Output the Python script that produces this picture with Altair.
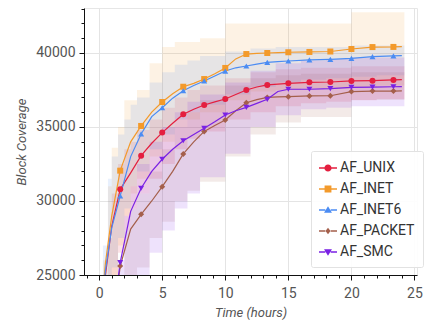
import altair as alt
import pandas as pd

SERIES = ["AF_UNIX", "AF_INET", "AF_INET6", "AF_PACKET", "AF_SMC"]
COLORS = ["#e41f3f", "#f39a2b", "#4b8cf3", "#a45f4b", "#7a21e4"]
SHAPES = ["circle", "square", "triangle-up", "diamond", "triangle-down"]

HOURS = [0, 0.5, 1, 1.67, 2.5, 3.33, 4.17, 5, 5.83, 6.67, 7.5, 8.33, 9.17, 10,
         10.83, 11.67, 12.5, 13.33, 14.17, 15, 16.67, 18.33, 20, 21.67, 23.33, 24]
MARKER_HOURS = [1.67, 3.33, 5, 6.67, 8.33, 10, 11.67, 13.33, 15, 16.67, 18.33,
                20, 21.67, 23.33]

AF_UNIX = [21000, 25000, 28300, 30790, 31900, 33060, 33900, 34620, 35250, 35860,
           36200, 36490, 36700, 36890, 37200, 37500, 37700, 37840, 37900, 37950,
           38020, 38040, 38110, 38130, 38180, 38200]
AF_INET = [21000, 25800, 29000, 32050, 34000, 35070, 36000, 36690, 37250, 37720,
           37950, 38240, 38600, 38990, 39600, 39930, 39980, 40000, 40030, 40050,
           40070, 40100, 40270, 40400, 40410, 40430]
AF_INET6 = [21000, 25300, 28200, 30340, 33000, 34530, 35700, 36300, 36950, 37450,
            37800, 38110, 38450, 38780, 39000, 39120, 39250, 39370, 39420, 39460,
            39530, 39570, 39640, 39750, 39800, 39820]
AF_PACKET = [14000, 17000, 21000, 25600, 28100, 29100, 30000, 30970, 32000, 33180,
             34000, 34700, 35100, 35470, 36100, 36640, 36850, 37000, 37030, 37050,
             37100, 37110, 37390, 37430, 37430, 37440]
AF_SMC = [15000, 18000, 21500, 25830, 29300, 30860, 32000, 32820, 33500, 34070,
          34500, 34910, 35350, 35810, 36100, 36330, 36600, 36870, 37400, 37550,
          37550, 37590, 37680, 37700, 37720, 37730]

BAND_HOURS = [0.3, 0.7, 1.0, 1.5, 2.0, 2.5, 3.0, 4.0, 5.0, 6.0, 7.0, 8.0, 10.0,
              12.0, 14.0, 16.0, 18.0, 20.0, 22.0, 24.2]
AF_UNIX_LO = [18000, 21000, 24000, 26500, 28000, 29500, 30500, 31500, 32500, 33500,
              34200, 34700, 35500, 36000, 36400, 36600, 36700, 36800, 36900, 36900]
AF_UNIX_HI = [24000, 27500, 30500, 32500, 33500, 34000, 34800, 35500, 36300, 37000,
              37500, 37800, 38300, 38700, 38900, 39000, 39000, 39100, 39100, 39100]
AF_INET_LO = [18000, 22000, 24500, 27000, 29000, 30500, 31500, 33000, 34000, 35000,
              35500, 36000, 36800, 37400, 37500, 37600, 37600, 37700, 37800, 37800]
AF_INET_HI = [26000, 31000, 33600, 35000, 36800, 36800, 37500, 39300, 40400, 40750,
              40750, 41000, 42000, 42000, 42000, 42000, 42000, 42750, 42750, 42750]
AF_INET6_LO = [19000, 23000, 25500, 27500, 29500, 31000, 32000, 33500, 34500, 35500,
               36000, 36500, 37200, 37700, 38000, 38200, 38300, 38400, 38500, 38500]
AF_INET6_HI = [27000, 31500, 33000, 34500, 35500, 36500, 37000, 38000, 38700, 39200,
               39500, 39800, 40100, 40300, 40400, 40400, 40400, 40500, 40500, 40500]
AF_PACKET_LO = [13000, 14000, 16000, 18000, 21000, 24000, 25500, 27500, 28600, 30000,
                30700, 31300, 33000, 34500, 35300, 35680, 35680, 36820, 36820, 36820]
AF_PACKET_HI = [16000, 18000, 21000, 25000, 28000, 29500, 30500, 32000, 33500, 35000,
                36000, 36800, 37800, 38300, 38500, 38600, 38600, 38700, 38700, 38700]
AF_SMC_LO = [14000, 15000, 17000, 19000, 21000, 23000, 24500, 26500, 28000, 29500,
             30500, 31600, 33200, 35000, 35800, 36200, 36300, 36400, 36400, 36400]
AF_SMC_HI = [17000, 19000, 22000, 26000, 29000, 31000, 32500, 34000, 35000, 36000,
             36700, 37200, 38000, 38800, 39300, 39500, 39600, 39700, 39700, 39700]

X_MAJOR = [0, 5, 10, 15, 20, 25]
X_MINOR = list(range(-1, 26))
Y_MAJOR = [25000, 30000, 35000, 40000]
Y_MINOR = list(range(25000, 44000, 1000))

# legend glyphs: a short line with the marker in the middle (box -1..1)
BAR_L = "M-1,-0.07H-0.3V0.07H-1Z"
BAR_R = "M0.3,-0.07H1V0.07H0.3Z"
LEGEND_PATHS = [
    BAR_L + BAR_R + "M0.4,0A0.4,0.4 0 1,1 -0.4,0A0.4,0.4 0 1,1 0.4,0Z",
    BAR_L + BAR_R + "M-0.38,-0.38H0.38V0.38H-0.38Z",
    BAR_L + BAR_R + "M0,-0.42L0.44,0.3H-0.44Z",
    BAR_L + BAR_R + "M0,-0.36L0.28,0L0,0.36L-0.28,0Z",
    BAR_L + BAR_R + "M0,0.42L0.44,-0.3H-0.44Z",
]

means = {"AF_UNIX": AF_UNIX, "AF_INET": AF_INET, "AF_INET6": AF_INET6,
         "AF_PACKET": AF_PACKET, "AF_SMC": AF_SMC}
lows = {"AF_UNIX": AF_UNIX_LO, "AF_INET": AF_INET_LO, "AF_INET6": AF_INET6_LO,
        "AF_PACKET": AF_PACKET_LO, "AF_SMC": AF_SMC_LO}
highs = {"AF_UNIX": AF_UNIX_HI, "AF_INET": AF_INET_HI, "AF_INET6": AF_INET6_HI,
         "AF_PACKET": AF_PACKET_HI, "AF_SMC": AF_SMC_HI}

line_rows, band_rows = [], []
for s in SERIES:
    for h, v in zip(HOURS, means[s]):
        line_rows.append({"series": s, "hour": h, "value": v,
                          "marker": h in MARKER_HOURS})
    for h, lo, hi in zip(BAND_HOURS, lows[s], highs[s]):
        band_rows.append({"series": s, "hour": h, "lo": lo, "hi": hi})
line_df = pd.DataFrame(line_rows)
band_df = pd.DataFrame(band_rows)
point_df = line_df[line_df["marker"]]
legend_df = line_df.iloc[0:0]

xscale = alt.Scale(domain=[-1.2, 25.2], nice=False, zero=False)
yscale = alt.Scale(domain=[25000, 43040], nice=False, zero=False)
cscale = alt.Scale(domain=SERIES, range=COLORS)

TXT = "#555555"
x_major = alt.Axis(values=X_MAJOR, orient="bottom", grid=True, gridColor="#e4e4e4",
                   tickSize=5, tickColor="#111", domainColor="#111", labelFontSize=14,
                   labelColor=TXT, labelPadding=6, title="Time (hours)",
                   titleFontStyle="italic", titleFontWeight="normal", titleFontSize=13,
                   titleColor=TXT, titlePadding=6)
x_minor = alt.Axis(values=X_MINOR, orient="bottom", grid=False, labels=False,
                   domain=False, tickSize=3, tickColor="#111", title=None)
y_major = alt.Axis(values=Y_MAJOR, orient="left", format="d", grid=True,
                   gridColor="#e4e4e4", tickSize=5, tickColor="#111",
                   domainColor="#111", labelFontSize=14, labelColor=TXT, labelPadding=4,
                   title="Block Coverage", titleFontStyle="italic",
                   titleFontWeight="normal", titleFontSize=13, titleColor=TXT,
                   titlePadding=7)
y_minor = alt.Axis(values=Y_MINOR, orient="left", grid=False, labels=False,
                   domain=False, tickSize=3, tickColor="#111", title=None)

legend = alt.Legend(title=None, orient="none", legendX=227, legendY=143,
                    symbolSize=324, symbolStrokeWidth=0,
                    labelFontSize=14, labelColor="#333", labelOffset=3,
                    fillColor="rgba(255,255,255,0.9)", strokeColor="#e2e2e2",
                    padding=8, rowPadding=5, cornerRadius=2)

bands = alt.Chart(band_df).mark_area(interpolate="step-after", fillOpacity=0.13,
                                     clip=True).encode(
    x=alt.X("hour:Q", scale=xscale, axis=x_minor),
    y=alt.Y("lo:Q", scale=yscale, axis=y_minor),
    y2="hi:Q",
    color=alt.Color("series:N", scale=cscale, legend=None),
)

lines = alt.Chart(line_df).mark_line(strokeWidth=1.2, clip=True).encode(
    x=alt.X("hour:Q", scale=xscale, axis=x_major),
    y=alt.Y("value:Q", scale=yscale, axis=y_major),
    color=alt.Color("series:N", scale=cscale, legend=None),
    order="hour:Q",
)

points = alt.Chart(point_df).mark_point(filled=True, size=36, opacity=1,
                                        clip=True).encode(
    x=alt.X("hour:Q", scale=xscale, axis=None),
    y=alt.Y("value:Q", scale=yscale, axis=None),
    color=alt.Color("series:N", scale=cscale, legend=None),
    shape=alt.Shape("series:N", scale=alt.Scale(domain=SERIES, range=SHAPES),
                    legend=None),
)

legend_layer = alt.Chart(legend_df).mark_point(filled=True, opacity=1).encode(
    x=alt.X("hour:Q", scale=xscale, axis=None),
    y=alt.Y("value:Q", scale=yscale, axis=None),
    color=alt.Color("series:N", scale=cscale, legend=legend),
    shape=alt.Shape("series:N", scale=alt.Scale(domain=SERIES, range=LEGEND_PATHS),
                    legend=legend),
)

chart = alt.layer(bands, lines, points, legend_layer).resolve_scale(
    color="independent", shape="independent"
).resolve_axis(
    x="independent", y="independent"
).properties(
    width=333, height=267,
    autosize=alt.AutoSizeParams(type="none"),
    padding={"left": 76, "top": 0, "right": 8, "bottom": 46},
).configure_view(
    stroke="#e6e6e6"
).configure_axis(
    labelFont="Roboto", titleFont="Roboto"
).configure_legend(
    labelFont="Roboto"
)

chart.save("out.html", embed_options={"renderer": "svg", "actions": False})
